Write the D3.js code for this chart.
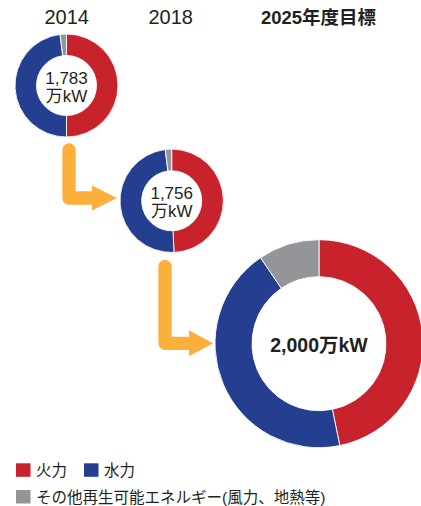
<!DOCTYPE html>
<html>
<head>
<meta charset="utf-8">
<script src="https://cdn.jsdelivr.net/npm/d3@7"></script>
<style>
  html, body { margin: 0; padding: 0; background: #fff; }
  svg { display: block; }
  text { font-family: "Liberation Sans", "Noto Sans CJK JP", sans-serif; fill: #231f20; }
</style>
</head>
<body>
<svg id="chart" width="421" height="506"></svg>
<script>
// Generation mix by year (share of total capacity, %)
const years = ["2014", "2018", "2025年度目標"];
const totals = ["1,783", "1,756", "2,000"];
const sources = ["火力", "水力", "その他再生可能エネルギー(風力、地熱等)"];
const thermal = [50.0, 49.3, 46.8];
const hydro = [48.0, 48.7, 43.7];
const otherRenew = [2.0, 2.0, 9.5];

const colors = ["#c8232c", "#243f8f", "#939598"];
const arrowColor = "#fbb03b";

const svg = d3.select("#chart");

// Layout of the three rings
const rings = [
  { cx: 66.5, cy: 85.5, r: 51.5, r0: 30 },
  { cx: 171.7, cy: 200.8, r: 51.7, r0: 30 },
  { cx: 319, cy: 343.7, r: 104, r0: 67 }
];

const pie = d3.pie().sort(null).value(d => d);
const color = d3.scaleOrdinal().domain(sources).range(colors);

// Connecting arrows (drawn first so rings sit on top)
const arrows = [
  { x: 69, y0: 150, y1: 198, xBase: 92, xTip: 117, h: 12.5 },
  { x: 165, y0: 266.5, y1: 343.3, xBase: 189, xTip: 213, h: 13 }
];
arrows.forEach(a => {
  const p = d3.path();
  p.moveTo(a.x, a.y0);
  p.lineTo(a.x, a.y1);
  p.lineTo(a.xBase + 1, a.y1);
  svg.append("path")
    .attr("d", p.toString())
    .attr("fill", "none")
    .attr("stroke", arrowColor)
    .attr("stroke-width", 13.3)
    .attr("stroke-linecap", "round")
    .attr("stroke-linejoin", "round");
  svg.append("path")
    .attr("d", `M${a.xBase},${a.y1 - a.h}L${a.xTip},${a.y1}L${a.xBase},${a.y1 + a.h}Z`)
    .attr("fill", arrowColor);
});

rings.forEach((g, i) => {
  const vals = [thermal[i], hydro[i], otherRenew[i]];
  const arc = d3.arc().innerRadius(g.r0).outerRadius(g.r);
  svg.append("g")
    .attr("transform", `translate(${g.cx},${g.cy})`)
    .selectAll("path")
    .data(pie(vals))
    .join("path")
    .attr("d", arc)
    .attr("fill", (d, j) => color(sources[j]))
    .attr("stroke", "#fff")
    .attr("stroke-width", 0.9);
});

// Year headings
svg.selectAll("text.year")
  .data(years)
  .join("text")
  .attr("class", "year")
  .attr("x", (d, i) => [66.7, 170.7, 318.5][i])
  .attr("y", 24)
  .attr("text-anchor", "middle")
  .attr("font-size", (d, i) => i === 2 ? "18.5px" : "20px")
  .attr("font-weight", (d, i) => i === 2 ? "bold" : "normal")
  .attr("fill", "#333")
  .text(d => d);

// Totals in the centre of the small rings
[0, 1].forEach(i => {
  const g = rings[i];
  const t = svg.append("text")
    .attr("text-anchor", "middle")
    .attr("font-size", "17px")
    .attr("fill", "#333");
  t.append("tspan").attr("x", g.cx).attr("y", g.cy - 1.5).text(totals[i]);
  t.append("tspan").attr("x", g.cx).attr("y", g.cy + 16.5).text("万kW");
});

// Target total in the large ring
svg.append("text")
  .attr("x", rings[2].cx)
  .attr("y", rings[2].cy + 8)
  .attr("text-anchor", "middle")
  .attr("font-size", "19.5px")
  .attr("font-weight", "bold")
  .text(totals[2] + "万kW");

// Legend
const legendPos = [
  { x: 16, y: 463.3 },
  { x: 84, y: 463.3 },
  { x: 16, y: 490 }
];
const lg = svg.append("g").selectAll("g")
  .data(sources)
  .join("g")
  .attr("transform", (d, i) => `translate(${legendPos[i].x},${legendPos[i].y})`);
lg.append("rect")
  .attr("width", 14.5)
  .attr("height", 13.5)
  .attr("fill", d => color(d));
lg.append("text")
  .attr("x", 20)
  .attr("y", 12.5)
  .attr("font-size", "15.5px")
  .attr("fill", "#333")
  .text(d => d);
</script>
</body>
</html>
